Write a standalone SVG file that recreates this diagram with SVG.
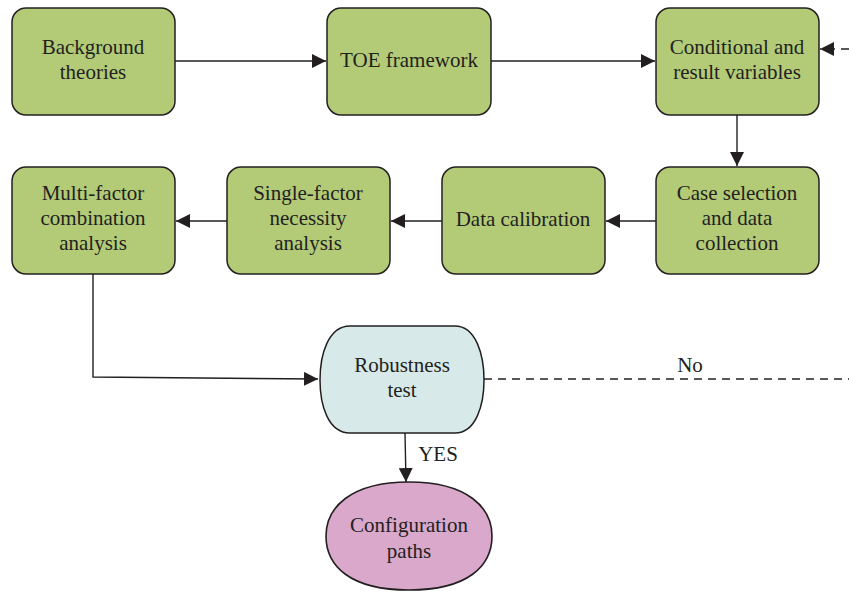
<svg xmlns="http://www.w3.org/2000/svg" width="849" height="592" viewBox="0 0 849 592">
<defs>
<style>
.box{fill:#b3cb77;stroke:#231f20;stroke-width:1.5}
.t{font-family:"Liberation Serif","DejaVu Serif",serif;font-size:21px;fill:#231f20;text-anchor:middle}
.c{fill:none;stroke:#231f20;stroke-width:1.4}
.d{stroke-dasharray:8 6}
</style>
<marker id="ah" viewBox="0 0 10 10" refX="10" refY="5" markerWidth="14" markerHeight="14" markerUnits="userSpaceOnUse" orient="auto">
<path d="M0,0 L10,5 L0,10 z" fill="#231f20"/>
</marker>
</defs>
<rect width="849" height="592" fill="#fff"/>
<g id="connectors">
<line class="c" x1="175" y1="61" x2="326" y2="61" marker-end="url(#ah)"/>
<line class="c" x1="491" y1="61" x2="655" y2="61" marker-end="url(#ah)"/>
<line class="c d" x1="849" y1="49" x2="820" y2="49" marker-end="url(#ah)"/>
<line class="c" x1="737" y1="115" x2="737" y2="166" marker-end="url(#ah)"/>
<line class="c" x1="656" y1="221" x2="606" y2="221" marker-end="url(#ah)"/>
<line class="c" x1="442" y1="221" x2="391" y2="221" marker-end="url(#ah)"/>
<line class="c" x1="227" y1="221" x2="176" y2="221" marker-end="url(#ah)"/>
<polyline class="c" points="93,274 93,377 318,379" marker-end="url(#ah)"/>
<line class="c d" x1="484" y1="379" x2="849" y2="379"/>
<line class="c" x1="405" y1="433" x2="406" y2="482" marker-end="url(#ah)"/>
<text class="t" x="690" y="372">No</text>
<text class="t" x="438" y="461">YES</text>
</g>
<g id="n1"><rect class="box" x="12" y="8" width="163" height="107" rx="14"/><text class="t" x="93" y="54">Background</text><text class="t" x="93" y="79">theories</text></g>
<g id="n2"><rect class="box" x="327" y="8" width="164" height="107" rx="14"/><text class="t" x="409" y="67">TOE framework</text></g>
<g id="n3"><rect class="box" x="656" y="8" width="163" height="107" rx="14"/><text class="t" x="737" y="54">Conditional and</text><text class="t" x="737" y="79">result variables</text></g>
<g id="n4"><rect class="box" x="656" y="167" width="163" height="107" rx="14"/><text class="t" x="737" y="200">Case selection</text><text class="t" x="737" y="225">and data</text><text class="t" x="737" y="250">collection</text></g>
<g id="n5"><rect class="box" x="442" y="167" width="163" height="107" rx="14"/><text class="t" x="523" y="226">Data calibration</text></g>
<g id="n6"><rect class="box" x="227" y="167" width="163" height="107" rx="14"/><text class="t" x="308" y="200">Single-factor</text><text class="t" x="308" y="225">necessity</text><text class="t" x="308" y="250">analysis</text></g>
<g id="n7"><rect class="box" x="12" y="167" width="163" height="107" rx="14"/><text class="t" x="93" y="200">Multi-factor</text><text class="t" x="93" y="225">combination</text><text class="t" x="93" y="250">analysis</text></g>
<g id="n8"><path d="M350,326 H455 C476,326 484,355 484,380 C484,405 476,433 455,433 H350 C328,433 320,405 320,380 C320,355 328,326 350,326 Z" fill="#d7e9e9" stroke="#231f20" stroke-width="1.5"/><text class="t" x="402" y="372">Robustness</text><text class="t" x="402" y="397">test</text></g>
<g id="n9"><path d="M409,482 C468,482 492,508 492,536 C492,566 468,590 409,590 C350,590 326,566 326,536 C326,508 350,482 409,482 Z" fill="#d9a8cb" stroke="#231f20" stroke-width="1.6"/><text class="t" x="409" y="532">Configuration</text><text class="t" x="409" y="558">paths</text></g>
</svg>
